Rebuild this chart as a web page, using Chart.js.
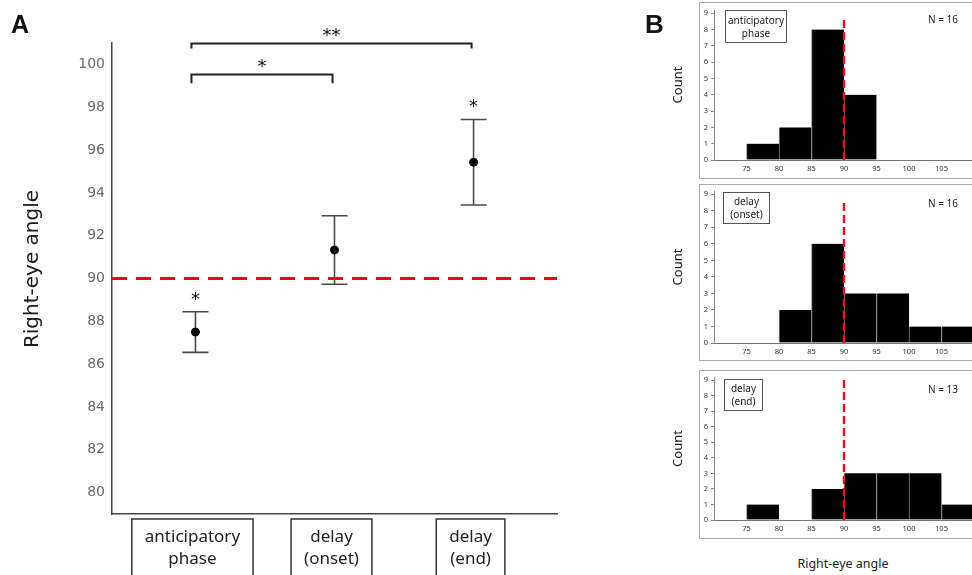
<!DOCTYPE html>
<html><head><meta charset="utf-8">
<script src="https://cdn.jsdelivr.net/npm/chart.js@4.4.1/dist/chart.umd.min.js"></script>
<style>
html,body{margin:0;padding:0;background:#fff;}
body{width:972px;height:575px;overflow:hidden;position:relative;font-family:"Noto Sans",sans-serif;}
.abs{position:absolute;}
.panel{position:absolute;left:699px;width:320px;border:1.5px solid #ababab;box-sizing:border-box;}
.lbox{position:absolute;border:1.2px solid #555;box-sizing:border-box;font:10px "Noto Sans";text-align:center;line-height:13px;color:#222;display:flex;align-items:center;justify-content:center;}
.nlab{position:absolute;width:40px;text-align:center;font:10px "Noto Sans";line-height:12px;color:#222;}
canvas{position:absolute;}
</style></head>
<body>
<div class="panel" style="top:2px;height:177px"></div>
<div class="panel" style="top:184px;height:177px"></div>
<div class="panel" style="top:370px;height:169px"></div>
<canvas id="cA" style="left:0;top:0" width="640" height="575"></canvas>
<canvas id="h0" style="left:640px;top:0px" width="340" height="180"></canvas>
<canvas id="h1" style="left:640px;top:180px" width="340" height="183"></canvas>
<canvas id="h2" style="left:640px;top:367px" width="340" height="173"></canvas>
<div class="abs" style="left:11px;top:12px;font:bold 25px 'Liberation Sans';line-height:25px;color:#111">A</div>
<div class="abs" style="left:645px;top:11px;font:bold 26px 'Liberation Sans';line-height:26px;color:#111">B</div>
<div id="overlay"></div>
<div class="abs" style="left:743px;top:555px;width:200px;text-align:center;font:12.5px 'Noto Sans';color:#222">Right-eye angle</div>
<script>
// ---------- Panel A data ----------
const categories = [['anticipatory','phase'],['delay','(onset)'],['delay','(end)']];
const meanAngle = [87.5, 91.33, 95.43];
const errUpper = [88.45, 92.93, 97.43];
const errLower = [86.55, 89.73, 93.43];
const vsNinetyStars = ['*', '', '*'];
const yTicksA = [80,82,84,86,88,90,92,94,96,98,100];
const refAngle = 90;
const bracketFrom = [0, 0];
const bracketTo = [1, 2];
const bracketLevel = [99.53, 100.98];
const bracketFoot = [99.12, 100.74];
const bracketStars = ['*', '**'];

// ---------- Panel B data ----------
const binStarts = [75,80,85,90,95,100,105];
const binWidth = 5;
const histNames = [['anticipatory','phase'],['delay','(onset)'],['delay','(end)']];
const countsAnticipatory = [1,2,8,4,0,0,0];
const countsOnset = [0,2,6,3,3,1,1];
const countsEnd = [1,0,2,3,3,3,1];
const histN = [16,16,13];
const xTicksB = [75,80,85,90,95,100,105];
const yTicksB = [0,1,2,3,4,5,6,7,8,9];
const refLineTop = [8.7, 8.6, 9.2];

// ---------- Panel A ----------
const xMinA = 0.4, xMaxA = 3.6;
const tickFontA = {family:'Noto Sans', size:17, lineHeight:1.25};
const annotA = {
  id:'annotA',
  beforeDatasetsDraw(chart){
    const {ctx, scales:{x,y}} = chart;
    ctx.save();
    ctx.strokeStyle='#4a4a4a'; ctx.lineWidth=1.6;
    meanAngle.forEach((m,i)=>{
      const px = x.getPixelForValue(i+1);
      const yt = y.getPixelForValue(errUpper[i]), yb = y.getPixelForValue(errLower[i]);
      ctx.beginPath();
      ctx.moveTo(px,yt); ctx.lineTo(px,yb);
      ctx.moveTo(px-13,yt); ctx.lineTo(px+13,yt);
      ctx.moveTo(px-13,yb); ctx.lineTo(px+13,yb);
      ctx.stroke();
    });
    ctx.restore();
  },
  afterDraw(chart){
    const {ctx, scales:{x,y}} = chart;
    ctx.save();
    // significance vs 90
    ctx.fillStyle='#111'; ctx.textAlign='center'; ctx.textBaseline='alphabetic';
    ctx.font='18px "DejaVu Sans"';
    vsNinetyStars.forEach((s,i)=>{
      if(!s) return;
      ctx.fillText(s, x.getPixelForValue(i+1), y.getPixelForValue(errUpper[i]) - 7);
    });
    // brackets
    ctx.strokeStyle='#222'; ctx.lineWidth=2;
    bracketFrom.forEach((f,i)=>{
      const xl = x.getPixelForValue(f+1)-4, xr = x.getPixelForValue(bracketTo[i]+1)-2;
      const yl = y.getPixelForValue(bracketLevel[i]), yf = y.getPixelForValue(bracketFoot[i]);
      ctx.beginPath();
      ctx.moveTo(xl,yf); ctx.lineTo(xl,yl); ctx.lineTo(xr,yl); ctx.lineTo(xr,yf);
      ctx.stroke();
      ctx.fillText(bracketStars[i], (xl+xr)/2, yl - 2);
    });
    // category boxes
    ctx.font = '17px "Noto Sans"';
    ctx.strokeStyle='#333'; ctx.lineWidth=1.5;
    x.ticks.forEach((t)=>{
      const lab = categories[t.value-1];
      const w = Math.max(...lab.map(s=>ctx.measureText(s).width));
      const cx = x.getPixelForValue(t.value) - 3;
      ctx.strokeRect(cx - w/2 - 13, x.top + 5, w + 26, 80);
    });
    // y title
    ctx.translate(33, 269); ctx.rotate(-Math.PI/2);
    ctx.font='20px "DejaVu Sans"'; ctx.fillStyle='#1a1a1a';
    ctx.textBaseline='middle';
    ctx.fillText('Right-eye angle', 0, 0);
    ctx.restore();
  }
};

new Chart(document.getElementById('cA'), {
  type:'scatter',
  data:{datasets:[
    {data: meanAngle.map((m,i)=>({x:i+1,y:m})), pointRadius:4, pointHoverRadius:4,
     backgroundColor:'#000', borderColor:'#000', order:0},
    {data:[{x:xMinA,y:refAngle},{x:xMaxA,y:refAngle}], showLine:true, pointRadius:0,
     borderColor:'#ff0000', borderWidth:3, borderDash:[15,9], order:1}
  ]},
  options:{
    responsive:false, animation:false, events:[],
    layout:{padding:{top:43,right:83,bottom:0,left:0}},
    plugins:{legend:{display:false}, tooltip:{enabled:false}},
    scales:{
      x:{type:'linear', min:xMinA, max:xMaxA,
         afterBuildTicks:s=>{s.ticks = categories.map((c,i)=>({value:i+1}));},
         afterFit:s=>{s.height = 61;},
         grid:{display:false, drawTicks:false},
         border:{color:'#444', width:1.5},
         ticks:{callback:v=>categories[v-1], font:tickFontA, color:'#222', padding:13,
                labelOffset:-3, autoSkip:false, maxRotation:0}},
      y:{type:'linear', min:79, max:101,
         afterBuildTicks:s=>{s.ticks = yTicksA.map(v=>({value:v}));},
         afterFit:s=>{s.width = 112;},
         grid:{display:false, drawTicks:false},
         border:{color:'#444', width:1.5},
         ticks:{font:{family:'DejaVu Sans', size:14}, color:'#6a6a6a', padding:7}}
    }
  },
  plugins:[annotA]
});

// ---------- Panel B ----------
const histCounts = [countsAnticipatory, countsOnset, countsEnd];
const histLayout = [{id:'h0', top:10}, {id:'h1', top:11}, {id:'h2', top:10}];
histCounts.forEach((counts, k)=>{
  new Chart(document.getElementById(histLayout[k].id), {
    type:'bar',
    data:{datasets:[
      {type:'line', data:[{x:refAngle,y:0},{x:refAngle,y:refLineTop[k]}], borderColor:'#e3161d',
       borderWidth:2.5, borderDash:[8,4], pointRadius:0, order:0},
      {type:'bar', data: binStarts.map((b,i)=>({x:b+binWidth/2, y: counts[i] ? counts[i] : null})),
       backgroundColor:'#000', borderColor:'#8c8c8c', borderWidth:{left:1,right:0,top:0,bottom:0},
       borderSkipped:false, barPercentage:1, categoryPercentage:1, order:1}
    ]},
    options:{
      responsive:false, animation:false, events:[],
      layout:{padding:{top:histLayout[k].top,right:6,bottom:0,left:0}},
      plugins:{legend:{display:false}, tooltip:{enabled:false}},
      scales:{
        x:{type:'linear', min:70, max:110, offset:false,
           afterBuildTicks:s=>{s.ticks = xTicksB.map(v=>({value:v}));},
           afterFit:s=>{s.height = 20;},
           grid:{display:false, drawTicks:false, offset:false},
           border:{color:'#777', width:1},
           ticks:{font:{family:'Noto Sans', size:7.5}, color:'#333', padding:4, autoSkip:false, maxRotation:0}},
        y:{type:'linear', min:0, max:9.2,
           afterBuildTicks:s=>{s.ticks = yTicksB.map(v=>({value:v}));},
           afterFit:s=>{s.width = 74;},
           grid:{drawOnChartArea:false, drawTicks:true, tickLength:3, color:'#888'},
           border:{color:'#888', width:1},
           title:{display:true, text:'Count', font:{family:'Noto Sans', size:13}, color:'#222', padding:{top:30,bottom:0}},
           ticks:{font:{family:'Noto Sans', size:7.5}, color:'#333', padding:3}}
      }
    }
  });
});

// legend boxes and N labels for histograms
const boxPos = [{l:725,t:10,w:62,h:33,n:13},{l:723,t:192,w:47,h:32,n:197},{l:724,t:379,w:39,h:32,n:383}];
const ov = document.getElementById('overlay');
histNames.forEach((nm,k)=>{
  const b = document.createElement('div');
  b.className='lbox';
  b.style.cssText += `left:${boxPos[k].l}px;top:${boxPos[k].t}px;width:${boxPos[k].w}px;height:${boxPos[k].h}px;`;
  b.innerHTML = nm.join('<br>');
  ov.appendChild(b);
  const n = document.createElement('div');
  n.className='nlab';
  n.style.cssText += `left:923px;top:${boxPos[k].n}px;`;
  n.textContent = 'N = ' + histN[k];
  ov.appendChild(n);
});
</script>
</body></html>
